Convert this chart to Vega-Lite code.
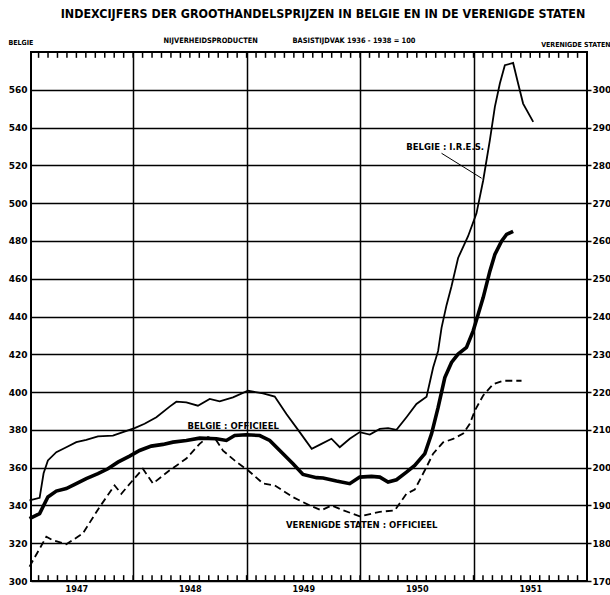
{
  "$schema": "https://vega.github.io/schema/vega-lite/v6.json",
  "autosize": "none",
  "width": 556,
  "height": 529,
  "padding": {"left": 31, "top": 52, "right": 23, "bottom": 14},
  "background": "white",
  "config": {
    "view": {"stroke": "black", "strokeWidth": 2},
    "font": "DejaVu Sans Condensed"
  },
  "title": {
    "text": "INDEXCIJFERS DER GROOTHANDELSPRIJZEN IN BELGIE EN IN DE VERENIGDE STATEN",
    "font": "DejaVu Sans Condensed",
    "fontSize": 12.4,
    "fontWeight": "bold",
    "color": "black",
    "anchor": "middle",
    "dx": 14,
    "dy": -4,
    "offset": 12
  },
  "datasets": {
    "ires": [
      {"t":1947.087,"v":342.7},{"t":1947.176,"v":344},{"t":1947.211,"v":357},{"t":1947.249,"v":363.8},{"t":1947.323,"v":368.2},{"t":1947.411,"v":370.8},{"t":1947.499,"v":373.5},{"t":1947.587,"v":374.7},{"t":1947.690,"v":376.5},{"t":1947.822,"v":377},{"t":1947.910,"v":378.8},{"t":1948.013,"v":380.9},{"t":1948.101,"v":383.2},{"t":1948.205,"v":386.7},{"t":1948.322,"v":392.3},{"t":1948.381,"v":394.9},{"t":1948.469,"v":394.6},{"t":1948.571,"v":392.8},{"t":1948.675,"v":396.4},{"t":1948.763,"v":395.1},{"t":1948.880,"v":397.2},{"t":1949.012,"v":400.7},{"t":1949.145,"v":399.3},{"t":1949.248,"v":397.6},{"t":1949.351,"v":388.4},{"t":1949.468,"v":378.8},{"t":1949.574,"v":370},{"t":1949.660,"v":372.6},{"t":1949.748,"v":375.3},{"t":1949.821,"v":370.8},{"t":1949.909,"v":375.3},{"t":1949.997,"v":378.8},{"t":1950.086,"v":377.5},{"t":1950.174,"v":380.5},{"t":1950.247,"v":380.9},{"t":1950.321,"v":380},{"t":1950.409,"v":386.7},{"t":1950.497,"v":393.7},{"t":1950.586,"v":397.6},{"t":1950.644,"v":413},{"t":1950.688,"v":421.8},{"t":1950.718,"v":434},{"t":1950.762,"v":446},{"t":1950.806,"v":456},{"t":1950.864,"v":471},{"t":1950.952,"v":482.5},{"t":1951.026,"v":494.6},{"t":1951.085,"v":512},{"t":1951.144,"v":533.4},{"t":1951.188,"v":551},{"t":1951.232,"v":563.3},{"t":1951.276,"v":573},{"t":1951.349,"v":574.2},{"t":1951.393,"v":563.3},{"t":1951.437,"v":552.7},{"t":1951.526,"v":543}
    ],
    "off": [
      {"t":1947.087,"v":333},{"t":1947.176,"v":335.7},{"t":1947.249,"v":344.5},{"t":1947.323,"v":347.6},{"t":1947.411,"v":348.9},{"t":1947.499,"v":351.5},{"t":1947.587,"v":354.2},{"t":1947.690,"v":356.8},{"t":1947.778,"v":359.4},{"t":1947.866,"v":362.9},{"t":1947.969,"v":366.1},{"t":1948.057,"v":369.1},{"t":1948.160,"v":371.4},{"t":1948.263,"v":372.3},{"t":1948.351,"v":373.5},{"t":1948.469,"v":374.4},{"t":1948.586,"v":375.6},{"t":1948.734,"v":375.3},{"t":1948.822,"v":374.4},{"t":1948.895,"v":377},{"t":1948.998,"v":377.4},{"t":1949.116,"v":377},{"t":1949.204,"v":374.4},{"t":1949.321,"v":367.4},{"t":1949.409,"v":362.1},{"t":1949.497,"v":356.4},{"t":1949.616,"v":354.7},{"t":1949.674,"v":354.5},{"t":1949.792,"v":352.9},{"t":1949.909,"v":351.5},{"t":1949.997,"v":355},{"t":1950.101,"v":355.4},{"t":1950.174,"v":355},{"t":1950.247,"v":352.4},{"t":1950.321,"v":353.6},{"t":1950.409,"v":357.6},{"t":1950.482,"v":361.2},{"t":1950.571,"v":367.4},{"t":1950.630,"v":377.9},{"t":1950.688,"v":391.9},{"t":1950.747,"v":407.7},{"t":1950.806,"v":415.7},{"t":1950.864,"v":420.1},{"t":1950.938,"v":423.6},{"t":1950.997,"v":432.4},{"t":1951.041,"v":441.2},{"t":1951.085,"v":450},{"t":1951.144,"v":464},{"t":1951.188,"v":472.8},{"t":1951.247,"v":479.9},{"t":1951.291,"v":483.4},{"t":1951.349,"v":485.1}
    ],
    "us": [
      {"t":1947.087,"v":173.8},{"t":1947.235,"v":181.7},{"t":1947.293,"v":180.8},{"t":1947.411,"v":179.7},{"t":1947.557,"v":182.6},{"t":1947.705,"v":189.6},{"t":1947.837,"v":195.3},{"t":1947.896,"v":193.1},{"t":1947.984,"v":196.2},{"t":1948.086,"v":199.7},{"t":1948.175,"v":195.8},{"t":1948.322,"v":199.3},{"t":1948.469,"v":202.4},{"t":1948.586,"v":206.3},{"t":1948.660,"v":208.1},{"t":1948.734,"v":207.2},{"t":1948.792,"v":204.5},{"t":1948.910,"v":201.5},{"t":1949.012,"v":199.3},{"t":1949.145,"v":195.8},{"t":1949.248,"v":195.3},{"t":1949.409,"v":192.2},{"t":1949.556,"v":190},{"t":1949.660,"v":188.7},{"t":1949.748,"v":190},{"t":1949.836,"v":188.9},{"t":1949.997,"v":187.1},{"t":1950.174,"v":188.3},{"t":1950.306,"v":188.7},{"t":1950.409,"v":193.1},{"t":1950.482,"v":194.2},{"t":1950.571,"v":199.3},{"t":1950.644,"v":203.7},{"t":1950.732,"v":206.7},{"t":1950.820,"v":207.6},{"t":1950.908,"v":209},{"t":1950.967,"v":211.6},{"t":1951.012,"v":215.1},{"t":1951.085,"v":219.1},{"t":1951.173,"v":222.1},{"t":1951.261,"v":223},{"t":1951.423,"v":223}
    ],
    "months": [
      {"t":1947.1667},{"t":1947.25},{"t":1947.3333},{"t":1947.4167},{"t":1947.5},{"t":1947.5833},{"t":1947.6667},{"t":1947.75},{"t":1947.8333},{"t":1947.9167},{"t":1948},{"t":1948.0833},{"t":1948.1667},{"t":1948.25},{"t":1948.3333},{"t":1948.4167},{"t":1948.5},{"t":1948.5833},{"t":1948.6667},{"t":1948.75},{"t":1948.8333},{"t":1948.9167},{"t":1949},{"t":1949.0833},{"t":1949.1667},{"t":1949.25},{"t":1949.3333},{"t":1949.4167},{"t":1949.5},{"t":1949.5833},{"t":1949.6667},{"t":1949.75},{"t":1949.8333},{"t":1949.9167},{"t":1950},{"t":1950.0833},{"t":1950.1667},{"t":1950.25},{"t":1950.3333},{"t":1950.4167},{"t":1950.5},{"t":1950.5833},{"t":1950.6667},{"t":1950.75},{"t":1950.8333},{"t":1950.9167},{"t":1951},{"t":1951.0833},{"t":1951.1667},{"t":1951.25},{"t":1951.3333},{"t":1951.4167},{"t":1951.5},{"t":1951.5833},{"t":1951.6667},{"t":1951.75},{"t":1951.8333},{"t":1951.9167}
    ],
    "labels": [
      {"t":1950.75,"v":529.5,"text":"BELGIE : I.R.E.S."},
      {"t":1948.882,"v":382.3,"text":"BELGIE : OFFICIEEL"},
      {"t":1950.015,"v":329.4,"text":"VERENIGDE STATEN : OFFICIEEL"}
    ],
    "leader": [
      {"t":1950.718,"v":526.4,"t2":1951.071,"v2":513.2}
    ]
  },
  "resolve": {"scale": {"y": "independent"}, "axis": {"x": "independent"}},
  "layer": [
    {
      "data": {"name": "us"},
      "mark": {"type": "line", "color": "black", "strokeWidth": 1.8, "strokeDash": [7, 4]},
      "encoding": {
        "x": {
          "field": "t", "type": "quantitative",
          "scale": {"domain": [1947.1, 1952.0], "nice": false, "zero": false},
          "axis": {
            "orient": "top",
            "values": [1948, 1949, 1950, 1951],
            "labels": false,
            "grid": false,
            "domain": false,
            "ticks": false,
            "title": "NIJVERHEIDSPRODUCTEN\u00a0\u00a0\u00a0\u00a0\u00a0\u00a0\u00a0\u00a0\u00a0\u00a0\u00a0\u00a0\u00a0\u00a0\u00a0BASISTIJDVAK 1936 - 1938 = 100",
            "titleFont": "DejaVu Sans Condensed",
            "titleFontSize": 7.4,
            "titleFontWeight": "bold",
            "titleColor": "black",
            "titleX": 258,
            "titleY": -12,
            "titleAlign": "center",
            "titleBaseline": "middle"
          }
        },
        "y": {
          "field": "v", "type": "quantitative",
          "scale": {"domain": [170, 310], "nice": false, "zero": false},
          "axis": {
            "orient": "right",
            "values": [170,180,190,200,210,220,230,240,250,260,270,280,290,300],
            "grid": false,
            "domain": false,
            "tickSize": 4,
            "tickWidth": 1.5,
            "tickColor": "black",
            "labelPadding": 1,
            "labelFont": "DejaVu Sans",
            "labelFontWeight": "bold",
            "labelFontSize": 9,
            "labelColor": "black",
            "title": "VERENIGDE STATEN",
            "titleFont": "DejaVu Sans Condensed",
            "titleFontSize": 7,
            "titleFontWeight": "bold",
            "titleColor": "black",
            "titleAngle": 0,
            "titleX": 23,
            "titleY": -8,
            "titleAlign": "right",
            "titleBaseline": "middle"
          }
        }
      }
    },
    {
      "data": {"name": "months"},
      "mark": {"type": "tick", "orient": "vertical", "color": "black", "size": 6, "thickness": 1.5, "opacity": 1},
      "encoding": {
        "x": {"field": "t", "type": "quantitative", "scale": {"domain": [1947.1, 1952.0], "nice": false, "zero": false}, "axis": null},
        "y": {"datum": 301.5, "type": "quantitative", "scale": {"domain": [300, 580], "nice": false, "zero": false}, "axis": null}
      }
    },
    {
      "data": {"name": "months"},
      "mark": {"type": "tick", "orient": "vertical", "color": "black", "size": 6, "thickness": 1.5, "opacity": 1},
      "encoding": {
        "x": {"field": "t", "type": "quantitative", "scale": {"domain": [1947.1, 1952.0], "nice": false, "zero": false}, "axis": null},
        "y": {"datum": 578.5, "type": "quantitative", "scale": {"domain": [300, 580], "nice": false, "zero": false}, "axis": null}
      }
    },
    {
      "encoding": {
        "x": {
          "field": "t", "type": "quantitative",
          "scale": {"domain": [1947.1, 1952.0], "nice": false, "zero": false},
          "axis": {
            "orient": "bottom",
            "values": [1947.5, 1948, 1948.5, 1949, 1949.5, 1950, 1950.5, 1951, 1951.5],
            "labelExpr": "abs(datum.value - floor(datum.value) - 0.5) < 0.001 ? '' + floor(datum.value) : ''",
            "labelOverlap": false,
            "labelFlush": false,
            "labelBound": false,
            "labelFont": "DejaVu Sans Condensed",
            "labelFontWeight": "bold",
            "labelFontSize": 9,
            "labelColor": "black",
            "labelPadding": 3,
            "grid": true,
            "gridColor": "black",
            "gridWidth": 1.5,
            "gridOpacity": {"condition": {"test": "abs(datum.value - round(datum.value)) < 0.001", "value": 1}, "value": 0},
            "domain": false,
            "ticks": false,
            "title": null
          }
        },
        "y": {
          "field": "v", "type": "quantitative",
          "scale": {"domain": [300, 580], "nice": false, "zero": false},
          "axis": {
            "orient": "left",
            "values": [300,320,340,360,380,400,420,440,460,480,500,520,540,560],
            "grid": true,
            "gridColor": "black",
            "gridWidth": 1.5,
            "domain": false,
            "ticks": false,
            "labelPadding": 4,
            "labelFont": "DejaVu Sans",
            "labelFontWeight": "bold",
            "labelFontSize": 9,
            "labelColor": "black",
            "title": "BELGIE",
            "titleFont": "DejaVu Sans Condensed",
            "titleFontSize": 7,
            "titleFontWeight": "bold",
            "titleColor": "black",
            "titleAngle": 0,
            "titleX": -23,
            "titleY": -10,
            "titleAlign": "left",
            "titleBaseline": "middle"
          }
        }
      },
      "layer": [
        {
          "data": {"name": "ires"},
          "mark": {"type": "line", "color": "black", "strokeWidth": 1.8}
        },
        {
          "data": {"name": "off"},
          "mark": {"type": "line", "color": "black", "strokeWidth": 3.6}
        },
        {
          "data": {"name": "leader"},
          "mark": {"type": "rule", "color": "black", "strokeWidth": 1},
          "encoding": {
            "x2": {"field": "t2"},
            "y2": {"field": "v2"}
          }
        },
        {
          "data": {"name": "labels"},
          "mark": {"type": "text", "font": "DejaVu Sans", "fontWeight": "bold", "fontSize": 8.5, "color": "black", "align": "center", "baseline": "middle"},
          "encoding": {
            "text": {"field": "text"}
          }
        }
      ]
    }
  ]
}
